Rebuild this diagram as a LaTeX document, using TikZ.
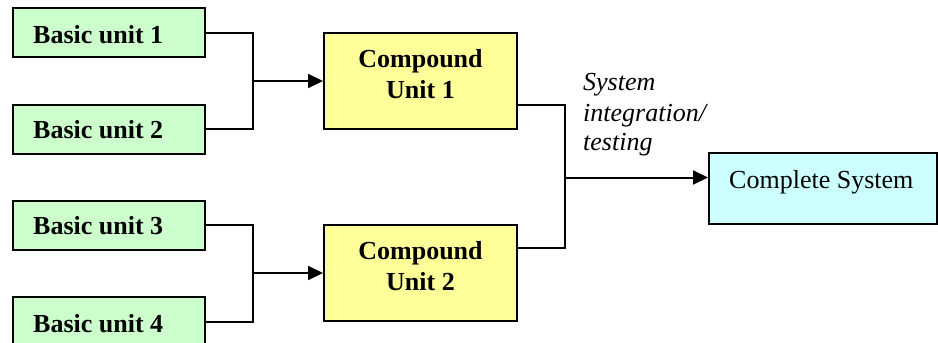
\documentclass[tikz,border=0pt]{standalone}
\usepackage{fontspec}
\setmainfont{Liberation Serif}
\usetikzlibrary{arrows.meta}
\definecolor{basicgreen}{HTML}{CCFFCC}
\definecolor{compyellow}{HTML}{FFFF99}
\definecolor{syscyan}{HTML}{CCFFFF}
\tikzset{
  basicbox/.style={draw=black, line width=2pt, fill=basicgreen, minimum width=192pt, minimum height=49pt, inner sep=0pt},
  basictext/.style={inner sep=0pt, anchor=base west, font=\fontsize{26}{30}\selectfont\bfseries},
  compbox/.style={draw=black, line width=2pt, fill=compyellow, minimum width=193pt, minimum height=96pt, inner sep=0pt},
  sysbox/.style={draw=black, line width=2pt, fill=syscyan, minimum width=228pt, minimum height=71pt, inner sep=0pt},
  comptext/.style={align=center, inner sep=0pt, font=\fontsize{26}{31}\selectfont\bfseries},
  systext/.style={inner sep=0pt, anchor=base west, font=\fontsize{26}{30}\selectfont},
  itext/.style={inner sep=0pt, anchor=base west, font=\fontsize{26}{30}\selectfont\itshape},
  conn/.style={line width=2pt},
  arr/.style={line width=2pt, -{Triangle[length=15pt,width=14pt]}}
}
\begin{document}
\begin{tikzpicture}[x=1pt,y=1pt]
\useasboundingbox (0,0) rectangle (938,-343);
% basic units
\node[basicbox] (b1) at (109,-32.5) {};
\node[basicbox] (b2) at (109,-129) {};
\node[basicbox] (b3) at (109,-225) {};
\node[basicbox] (b4) at (109,-321.5) {};
\node[basictext] (b1t) at (33,-43.3) {Basic unit 1};
\node[basictext] (b2t) at (33,-138.3) {Basic unit 2};
\node[basictext] (b3t) at (33,-234.3) {Basic unit 3};
\node[basictext] (b4t) at (33,-332) {Basic unit 4};
% compound units
\node[compbox] (c1) at (420.5,-81) {};
\node[comptext] (c1t) at (420.5,-74) {Compound\\Unit 1};
\node[compbox] (c2) at (420.5,-273) {};
\node[comptext] (c2t) at (420.5,-266) {Compound\\Unit 2};
% complete system
\node[sysbox] (cs) at (823,-188.5) {};
\node[systext] (cst) at (729,-188) {Complete System};
% junctions
\coordinate (j1) at (253,-81);
\coordinate (j2) at (253,-273);
\coordinate (j3) at (565,-177.5);
% connectors
\draw[conn] (b1.east) -| (j1) |- (b2.east);
\draw[arr] (j1) -- (c1.west);
\draw[conn] (b3.east) -| (j2) |- (b4.east);
\draw[arr] (j2) -- (c2.west);
\draw[conn] ([yshift=-24pt]c1.east) -| (j3) |- ([yshift=25pt]c2.east);
\draw[arr] (j3) -- (j3 -| cs.west);
% label
\node[itext] (l1) at (583,-90.7) {System};
\node[itext] (l2) at (583,-121) {integration/};
\node[itext] (l3) at (583,-150.7) {testing};
\end{tikzpicture}
\end{document}
